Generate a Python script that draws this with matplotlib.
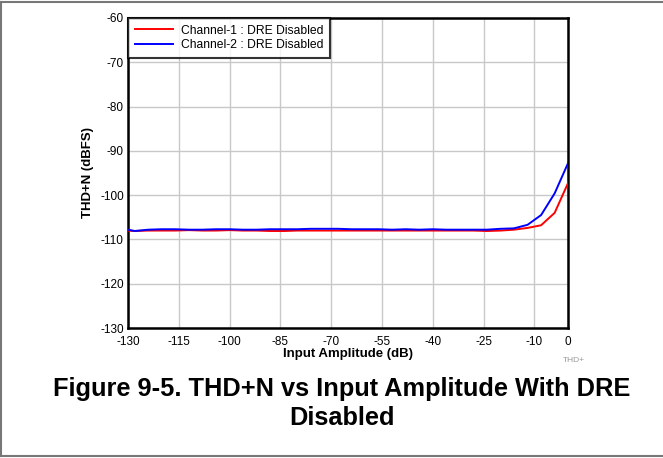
import matplotlib
matplotlib.use("Agg")
import matplotlib.pyplot as plt
from matplotlib.lines import Line2D

plt.rcParams['font.family'] = ['Liberation Sans', 'DejaVu Sans']

input_db = [-130, -128, -124, -120, -116, -112, -108, -104, -100, -96, -92, -88,
            -84, -80, -76, -72, -68, -64, -60, -56, -52, -48, -44, -40, -36,
            -32, -28, -24, -20, -16, -12, -8, -4, 0]
ch1_thdn = [-108.0, -108.1, -108.0, -108.0, -108.0, -107.9, -108.0, -108.0, -107.9, -108.0, -108.0, -108.1,
            -108.1, -108.0, -108.0, -108.0, -108.0, -108.0, -108.0, -108.0, -108.0, -108.0, -108.0, -108.0, -108.0,
            -108.0, -108.0, -108.1, -108.0, -107.8, -107.4, -106.8, -104.0, -97.2]
ch2_thdn = [-107.8, -108.1, -107.8, -107.7, -107.7, -107.8, -107.8, -107.7, -107.7, -107.8, -107.8, -107.7,
            -107.7, -107.7, -107.6, -107.6, -107.6, -107.7, -107.7, -107.7, -107.8, -107.7, -107.8, -107.7, -107.8,
            -107.8, -107.8, -107.8, -107.6, -107.5, -106.7, -104.5, -99.6, -92.7]
x_ticks = [-130, -115, -100, -85, -70, -55, -40, -25, -10, 0]
y_ticks = [-130, -120, -110, -100, -90, -80, -70, -60]
series_labels = ['Channel-1 : DRE Disabled', 'Channel-2 : DRE Disabled']

fig = plt.figure(figsize=(6.63, 4.58), dpi=100)
ax = fig.add_axes([0.193, 0.2838, 0.664, 0.677])

ax.plot(input_db, ch1_thdn, color='#ff0000', lw=1.4, label=series_labels[0], zorder=3)
ax.plot(input_db, ch2_thdn, color='#0000ff', lw=1.4, label=series_labels[1], zorder=3)

ax.set_xlim(-130, 0)
ax.set_ylim(-130, -60)
ax.set_xticks(x_ticks)
ax.set_yticks(y_ticks)
ax.set_xticklabels([str(v) for v in x_ticks])
ax.set_yticklabels([str(v) for v in y_ticks])
ax.grid(True, color='#c8c8c8', lw=1.0, zorder=0)
ax.tick_params(axis='x', length=0, labelsize=8.5, pad=6)
ax.tick_params(axis='y', length=0, labelsize=8.5, pad=3)
for s in ax.spines.values():
    s.set_linewidth(1.8)
    s.set_color('black')

ax.set_xlabel('Input Amplitude (dB)', fontsize=9.5, fontweight='bold', labelpad=0)
ax.set_ylabel('THD+N (dBFS)', fontsize=9.5, fontweight='bold', labelpad=4)

leg = ax.legend(loc='upper left', fontsize=8.7, frameon=True, fancybox=False,
                borderaxespad=0.0, handlelength=3.2, borderpad=0.55,
                labelspacing=0.2, handletextpad=0.65)
leg.get_frame().set_edgecolor('black')
leg.get_frame().set_linewidth(1.5)

fig.text(563 / 663, 1 - 360 / 458, 'THD+', fontsize=6, color='#999999', ha='left', va='center')

fig.text(342 / 663, 1 - 389 / 458, 'Figure 9-5. THD+N vs Input Amplitude With DRE',
         fontsize=18.3, fontweight='bold', ha='center', va='center')
fig.text(342 / 663, 1 - 418 / 458, 'Disabled',
         fontsize=18.3, fontweight='bold', ha='center', va='center')

# figure border (top, left, bottom)
border_kw = dict(color='#777777', lw=1.5, transform=fig.transFigure)
fig.add_artist(Line2D([0, 1], [1 - 2 / 458, 1 - 2 / 458], **border_kw))
fig.add_artist(Line2D([1 / 663, 1 / 663], [1 - 2 / 458, 2 / 458], **border_kw))
fig.add_artist(Line2D([0, 1], [2 / 458, 2 / 458], **border_kw))

fig.savefig('out.png', dpi=100)
